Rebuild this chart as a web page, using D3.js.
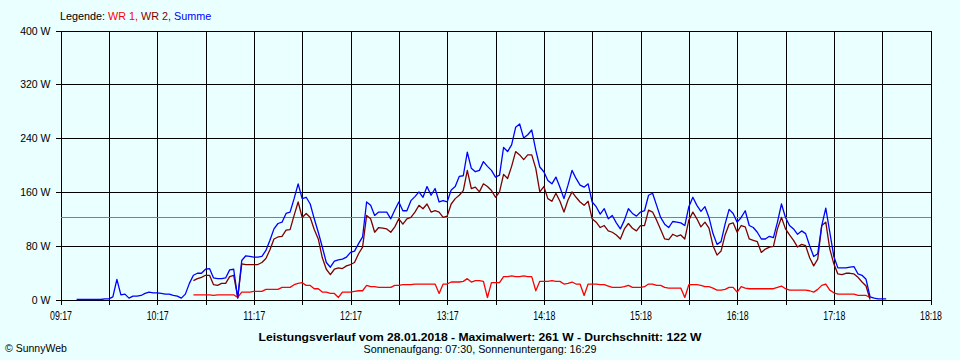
<!DOCTYPE html>
<html><head><meta charset="utf-8">
<script src="https://cdn.jsdelivr.net/npm/d3@7"></script>
<style>
html,body{margin:0;padding:0;background:#eaffff;}
svg{display:block;}
text{font-family:"Liberation Sans",Arial,sans-serif;}
</style></head><body>
<svg id="c" width="960" height="360"></svg>
<script>
// ---- data ----
const yTicks = [0, 80, 160, 240, 320, 400];
const xGrid = [0,30,60,90,120,150,180,210,240,270,300,330,360,390,420,450,480,510,540]; // minutes after 09:17
const xLabels = ["09:17","10:17","11:17","12:17","13:17","14:18","15:18","16:18","17:18","18:18"];
const stepMin = 2.5;          // sampling interval (minutes)
const summeStart = 10;        // minutes after 09:17
const wrStart = 82.5;
const average = 122;

const summe = [0,0,0,0,0,0,0,
 1,1,4,30,7,8,2,5,5,6,
 9,11,10,10,9,8,8,6,5,2,
 8,24,36,39,39,45,46,32,31,31,
 32,44,45,2,58,65,64,63,63,64,
 73,88,105,113,115,128,130,150,172,150,
 152,142,120,100,78,55,48,57,59,60,
 63,70,72,83,93,145,140,125,130,130,
 130,120,133,145,132,132,147,153,160,152,
 168,155,165,145,147,145,163,168,183,184,
 219,195,190,192,205,198,192,182,185,226,
 220,230,256,261,240,245,252,222,197,190,
 177,172,182,167,150,170,192,180,170,167,
 172,145,138,127,135,120,125,114,105,118,
 135,128,124,130,132,155,158,140,122,112,
 107,116,115,114,110,138,152,140,131,138,
 122,98,82,86,112,134,128,115,122,132,
 110,107,100,90,90,94,92,115,142,122,
 110,105,97,102,98,80,64,68,110,136,
 100,64,47,47,47,48,49,38,36,30,
 4,2,1,1,1];

const wr2 = [28,31,33,36,36,22,21,24,
 24,34,36,3,53,52,52,52,52,55,
 61,74,90,93,94,103,104,125,145,122,
 128,122,104,90,62,45,37,45,47,46,
 50,52,55,68,78,125,120,100,107,106,
 105,100,108,120,112,120,122,130,140,135,
 142,130,132,130,122,124,142,150,155,162,
 192,165,167,160,172,168,162,152,160,186,
 180,198,220,215,208,215,215,195,160,168,
 150,146,158,146,130,148,160,152,145,140,
 146,120,115,107,110,102,100,96,90,105,
 113,106,102,110,110,133,130,118,104,90,
 89,97,94,96,90,118,130,120,108,115,
 106,80,66,72,96,112,114,100,110,108,
 90,88,86,70,75,78,79,105,122,105,
 96,88,78,82,80,62,50,60,110,115,
 75,53,38,37,39,39,38,33,26,20,
 0];

const wr1 = [7,7,7,7,7,6,7,7,
 7,7,7,3,11,11,11,12,12,12,
 15,15,15,15,18,18,18,22,24,25,
 21,21,16,16,11,11,9,9,3,11,
 11,11,12,13,13,21,19,19,18,18,
 18,18,21,21,22,22,22,23,23,23,
 23,23,23,9,23,23,26,26,26,27,
 31,26,28,28,27,3,25,25,25,34,
 34,35,34,34,35,34,34,13,27,27,
 27,28,27,27,23,24,26,23,23,6,
 23,23,23,22,22,20,18,18,18,19,
 21,18,18,18,19,23,23,21,21,18,
 17,17,17,17,3,22,22,22,21,19,
 19,17,14,14,15,18,18,11,19,17,
 16,16,16,16,16,16,16,18,20,16,
 14,14,14,14,14,13,11,15,21,23,
 14,10,8,8,8,8,8,6,6,6,
 3];

// ---- chart ----
const svg = d3.select("#c");
const g = svg.append("g").attr("transform","translate(0.5,0.5)");
const x = d3.scaleLinear().domain([0,540]).range([60,930]);
const y = d3.scaleLinear().domain([0,400]).range([299,30]);

// grid
const gy = g.append("g").attr("transform","translate(60,0)")
  .call(d3.axisLeft(y).tickValues(yTicks).tickSize(-870).tickFormat(""));
gy.select(".domain").remove();
gy.selectAll("line").attr("stroke","#000").attr("shape-rendering","crispEdges");
const gx = g.append("g").attr("transform","translate(0,299)")
  .call(d3.axisBottom(x).tickValues(xGrid).tickSize(-269).tickFormat(""));
gx.select(".domain").remove();
gx.selectAll("line").attr("stroke","#000").attr("shape-rendering","crispEdges");

// average line
g.append("line").attr("x1",x(0)).attr("x2",x(540)).attr("y1",y(average)).attr("y2",y(average))
  .attr("stroke","#808080").attr("shape-rendering","crispEdges");

// y axis
const ay = g.append("g").attr("transform","translate(60,0)")
  .call(d3.axisLeft(y).tickValues(yTicks).tickSize(5).tickPadding(5).tickFormat(d=>d+" W"));
ay.select(".domain").remove();
ay.selectAll("line").attr("stroke","#000").attr("shape-rendering","crispEdges");
ay.selectAll("text").attr("font-size","10.5px").attr("fill","#000")
  .attr("font-family","'Liberation Sans',Arial,sans-serif").attr("dy","0.34em");

// x axis
const ax = g.append("g").attr("transform","translate(0,299)")
  .call(d3.axisBottom(x).tickValues(xGrid).tickSize(5).tickSizeOuter(0).tickPadding(7)
    .tickFormat((d,i)=> i%2===0 ? xLabels[i/2] : ""));
ax.select(".domain").attr("stroke","#000").attr("shape-rendering","crispEdges");
ax.selectAll("line").attr("stroke","#000").attr("shape-rendering","crispEdges");
ax.selectAll("text").attr("font-size","12.5px").attr("fill","#000")
  .attr("font-family","'Liberation Sans',Arial,sans-serif")
  .each(function(){ if(this.textContent){ d3.select(this).attr("textLength",22).attr("lengthAdjust","spacingAndGlyphs"); } });

// series
function series(vals, start){ return vals.map((v,i)=>({t:start+i*stepMin, v})); }
const line = d3.line().x(d=>x(d.t)).y(d=>y(d.v)).curve(d3.curveLinear);
const plot = [
  {data:series(wr1,wrStart), color:"#ff0000"},
  {data:series(wr2,wrStart), color:"#800000"},
  {data:series(summe,summeStart), color:"#0000ff"}
];
g.selectAll("path.s").data(plot).join("path").attr("class","s")
  .attr("d",d=>line(d.data)).attr("fill","none").attr("stroke",d=>d.color)
  .attr("stroke-width",1.3).attr("stroke-linejoin","round");

// legend
const lg = svg.append("text").attr("x",60).attr("y",20).attr("font-size","10.8px");
lg.append("tspan").attr("fill","#000").text("Legende: ");
lg.append("tspan").attr("fill","#ff0000").text("WR 1, ");
lg.append("tspan").attr("fill","#800000").text("WR 2, ");
lg.append("tspan").attr("fill","#0000ff").text("Summe");

// titles
svg.append("text").attr("x",480).attr("y",341).attr("text-anchor","middle")
  .attr("font-size","11.5px").attr("font-weight","bold").attr("fill","#000")
  .attr("textLength",443).attr("lengthAdjust","spacingAndGlyphs")
  .text("Leistungsverlauf vom 28.01.2018 - Maximalwert: 261 W - Durchschnitt: 122 W");
svg.append("text").attr("x",480).attr("y",353).attr("text-anchor","middle")
  .attr("font-size","10.5px").attr("fill","#000")
  .attr("textLength",233).attr("lengthAdjust","spacingAndGlyphs")
  .text("Sonnenaufgang: 07:30, Sonnenuntergang: 16:29");
svg.append("text").attr("x",5).attr("y",352)
  .attr("font-size","10.5px").attr("fill","#000").text("© SunnyWeb");
</script>
</body></html>
